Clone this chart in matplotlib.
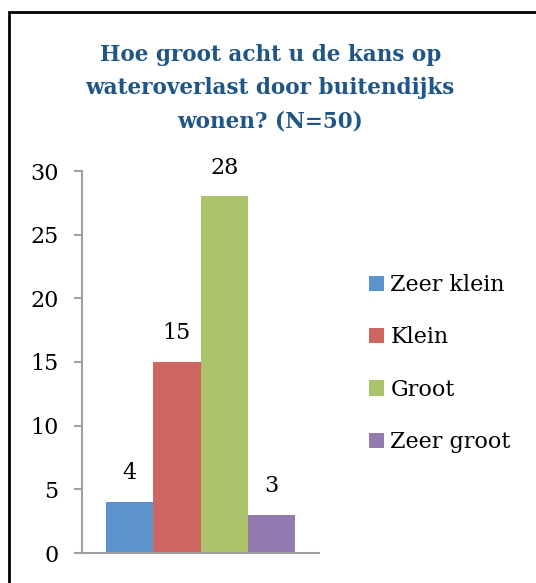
import matplotlib.pyplot as plt
from matplotlib.patches import Rectangle

categories = ['Zeer klein', 'Klein', 'Groot', 'Zeer groot']
values = [4, 15, 28, 3]
colors = ['#5B93CA', '#CD6660', '#ABC46B', '#937BB0']
yticks = [0, 5, 10, 15, 20, 25, 30]
title = 'Hoe groot acht u de kans op\nwateroverlast door buitendijks\nwonen? (N=50)'

plt.rcParams['font.family'] = ['DejaVu Serif']

fig = plt.figure(figsize=(5.36, 5.83), dpi=100)
ax = fig.add_axes([82 / 536, 1 - 553 / 583, 237 / 536, 382 / 583])

for i, (cat, val, col) in enumerate(zip(categories, values, colors)):
    ax.bar(i, val, width=1.0, color=col, label=cat)
    ax.text(i, val + 1.4, str(val), ha='center', va='bottom', fontsize=16)

ax.set_xlim(-1, 4)
ax.set_ylim(0, 30)
ax.set_yticks(yticks)
ax.set_xticks([])
ax.tick_params(axis='y', length=6, width=1.5, color='#A0A0A0', labelsize=16, pad=11)
for side in ['top', 'right']:
    ax.spines[side].set_visible(False)
for side in ['left', 'bottom']:
    ax.spines[side].set_color('#A0A0A0')
    ax.spines[side].set_linewidth(1.5)

fig.text(0.504, 1 - 44 / 583, title, ha='center', va='top', fontsize=15.5,
         fontweight='bold', color='#1F5587', linespacing=1.65)

fig.legend(loc='upper left', bbox_to_anchor=(349 / 536, 1 - 254 / 583), frameon=False,
           fontsize=16, handlelength=0.68, handleheight=0.68, handletextpad=0.28,
           labelspacing=1.37)

fig.add_artist(Rectangle((9 / 536, -0.1), 1.2, 1.1 - 12 / 583, transform=fig.transFigure,
                         fill=False, edgecolor='black', linewidth=2))

fig.savefig('out.png', dpi=100)
